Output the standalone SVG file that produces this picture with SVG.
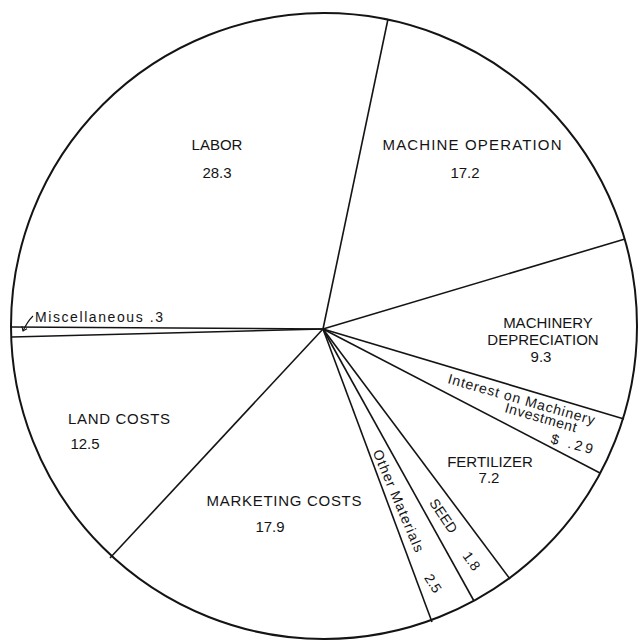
<svg xmlns="http://www.w3.org/2000/svg" width="638" height="640" viewBox="0 0 638 640">
<style>
.lbl{font-family:"Liberation Sans",Arial,sans-serif;font-size:15px;fill:#141414;text-anchor:middle}
.sm{font-family:"Liberation Sans",Arial,sans-serif;font-size:14px;fill:#141414}
.rot{dominant-baseline:central}
.ln{stroke:#141414;stroke-width:1.6;fill:none}
</style>
<defs>
<marker id="ah" markerWidth="8" markerHeight="8" refX="4" refY="4" orient="auto" markerUnits="userSpaceOnUse">
<path d="M0,1 L4,4 L0,7" fill="none" stroke="#141414" stroke-width="1.1"/>
</marker>
</defs>
<rect width="638" height="640" fill="#fff"/>
<g id="connectors">
<line class="ln" x1="323" y1="329" x2="388" y2="19"/>
<line class="ln" x1="323" y1="329" x2="625" y2="239"/>
<line class="ln" x1="323" y1="329" x2="624" y2="419"/>
<line class="ln" x1="323" y1="329" x2="600" y2="473"/>
<line class="ln" x1="323" y1="329" x2="510" y2="579"/>
<line class="ln" x1="323" y1="329" x2="474" y2="601"/>
<line class="ln" x1="323" y1="329" x2="432" y2="622"/>
<line class="ln" x1="323" y1="329" x2="110" y2="558"/>
<line class="ln" x1="323" y1="329" x2="12" y2="337"/>
<line class="ln" x1="323" y1="329" x2="12" y2="327"/>
<path class="ln" style="stroke-width:1.1" d="M33,316 Q27,322 23,331" marker-end="url(#ah)"/>
</g>
<circle id="pie-outline" cx="324" cy="326" r="313" fill="none" stroke="#141414" stroke-width="2"/>
<g id="labor"><text class="lbl" x="217" y="150">LABOR</text><text class="lbl" x="217" y="178">28.3</text></g>
<g id="machine-operation"><text class="lbl" x="472" y="150" textLength="179">MACHINE OPERATION</text><text class="lbl" x="465" y="178">17.2</text></g>
<g id="machinery-depreciation"><text class="lbl" x="548" y="328">MACHINERY</text><text class="lbl" x="543" y="345">DEPRECIATION</text><text class="lbl" x="541" y="362">9.3</text></g>
<g id="interest">
<text class="sm" x="447" y="383" transform="rotate(16 447 383)" textLength="152">Interest on Machinery</text>
<text class="sm" x="504" y="412" transform="rotate(16 504 412)" textLength="74">Investment</text>
<text class="sm" x="550" y="443" transform="rotate(15 550 443)" textLength="43">$ .29</text>
</g>
<g id="fertilizer"><text class="lbl" x="490" y="467">FERTILIZER</text><text class="lbl" x="489" y="483">7.2</text></g>
<g id="seed"><text class="sm rot" x="433" y="500" transform="rotate(56 433 500)">SEED</text><text class="sm rot" x="466" y="553" transform="rotate(54 466 553)">1.8</text></g>
<g id="other-materials"><text class="sm rot" x="377" y="450" transform="rotate(67 377 450)" textLength="110">Other Materials</text><text class="sm rot" x="428" y="575" transform="rotate(58 428 575)">2.5</text></g>
<g id="marketing-costs"><text class="lbl" x="284" y="506" textLength="155">MARKETING COSTS</text><text class="lbl" x="270" y="532">17.9</text></g>
<g id="land-costs"><text class="lbl" x="119" y="424" textLength="102">LAND COSTS</text><text class="lbl" x="85" y="449">12.5</text></g>
<g id="miscellaneous"><text class="sm" x="35" y="322" textLength="128">Miscellaneous .3</text></g>
</svg>
